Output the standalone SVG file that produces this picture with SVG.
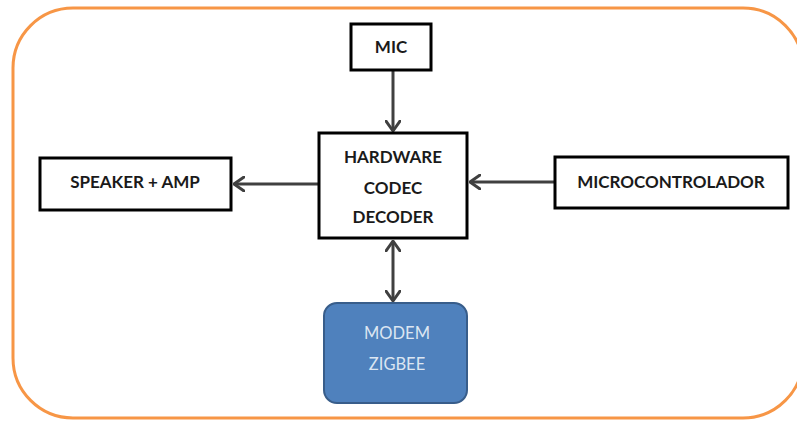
<svg xmlns="http://www.w3.org/2000/svg" width="797" height="421" viewBox="0 0 797 421">
  <style>
    .frame { fill: none; stroke: #F79646; stroke-width: 3; }
    .box { fill: #ffffff; stroke: #000000; stroke-width: 3; }
    .modem { fill: #4F81BD; stroke: #385D8A; stroke-width: 2; }
    .lbl { font-family: Lato, "Open Sans", "Liberation Sans", sans-serif; font-weight: bold; font-size: 17px; fill: #1a1a1a; text-anchor: middle; }
    .mlbl { font-family: Lato, "Open Sans", "Liberation Sans", sans-serif; font-size: 16.5px; fill: #dce6f2; text-anchor: middle; }
    .wire { stroke: #404040; stroke-width: 3; fill: none; }
  </style>
  <defs>
    <marker id="head" viewBox="0 0 12 16" refX="11" refY="8" markerWidth="12" markerHeight="16" markerUnits="userSpaceOnUse" orient="auto-start-reverse">
      <path d="M1,1 L11,8 L1,15" fill="none" stroke="#404040" stroke-width="3" stroke-linecap="round" stroke-linejoin="round"/>
    </marker>
  </defs>

  <!-- outer frame -->
  <rect class="frame" x="13" y="8" width="790" height="410" rx="60" ry="60"/>

  <!-- connectors -->
  <g id="connectors">
    <line class="wire" x1="393" y1="70" x2="393" y2="131" marker-end="url(#head)"/>
    <line class="wire" x1="555" y1="182" x2="470" y2="182" marker-end="url(#head)"/>
    <line class="wire" x1="319" y1="184" x2="234" y2="184" marker-end="url(#head)"/>
    <line class="wire" x1="393" y1="241" x2="393" y2="301" marker-start="url(#head)" marker-end="url(#head)"/>
  </g>

  <g id="mic">
    <rect class="box" x="351" y="24" width="80" height="46"/>
    <text class="lbl" x="391" y="53">MIC</text>
  </g>

  <g id="codec">
    <rect class="box" x="319" y="133" width="148" height="105"/>
    <text class="lbl" x="393" y="163">HARDWARE</text>
    <text class="lbl" x="393" y="194">CODEC</text>
    <text class="lbl" x="393" y="223">DECODER</text>
  </g>

  <g id="speaker">
    <rect class="box" x="40" y="158" width="191" height="52"/>
    <text class="lbl" x="135" y="188">SPEAKER + AMP</text>
  </g>

  <g id="micro">
    <rect class="box" x="555" y="157" width="233" height="51"/>
    <text class="lbl" x="671" y="188">MICROCONTROLADOR</text>
  </g>

  <g id="modem">
    <rect class="modem" x="324" y="303" width="143" height="100" rx="13" ry="13"/>
    <text class="mlbl" x="397" y="339">MODEM</text>
    <text class="mlbl" x="397" y="370">ZIGBEE</text>
  </g>
</svg>
